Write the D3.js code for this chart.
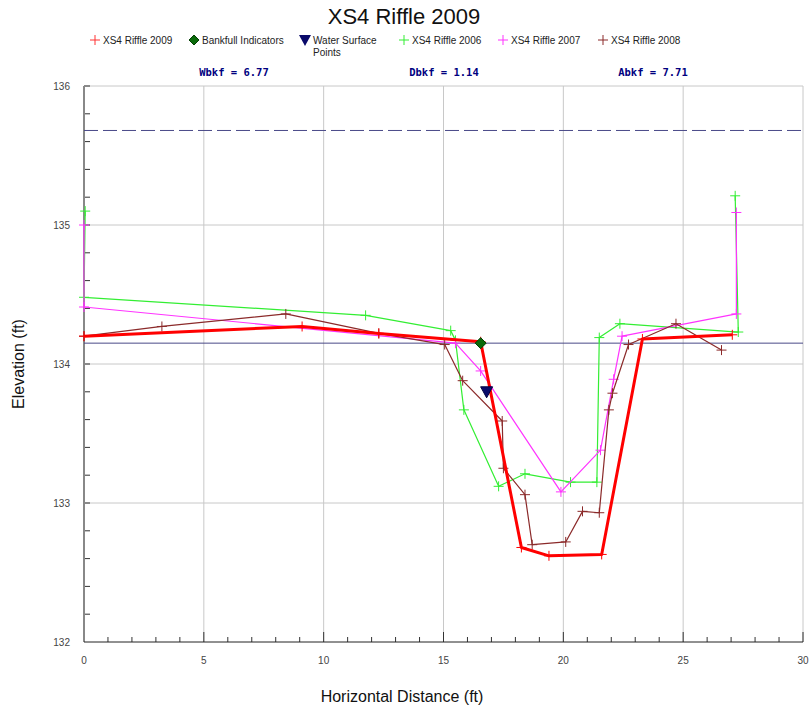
<!DOCTYPE html>
<html>
<head>
<meta charset="utf-8">
<script src="https://cdn.jsdelivr.net/npm/d3@7"></script>
<style>
  body { margin: 0; background: #fff; }
  svg { display: block; font-family: "Liberation Sans", Arial, sans-serif; }
</style>
</head>
<body>
<div id="chart"></div>
<script>
// cross-section surveys (x = horizontal distance ft, y = elevation ft)
const x2009 = [0, 9.1, 12.3, 16.55, 18.25, 19.4, 21.6, 23.3, 27.05];
const y2009 = [134.20, 134.27, 134.22, 134.16, 132.68, 132.62, 132.63, 134.18, 134.21];

const x2006 = [0.05, 0, 11.75, 15.3, 15.5, 15.85, 17.3, 18.4, 20.3, 21.4, 21.5, 22.36, 27.3, 27.17];
const y2006 = [135.10, 134.48, 134.35, 134.24, 134.17, 133.67, 133.12, 133.21, 133.15, 133.15, 134.19, 134.29, 134.23, 135.21];

const x2007 = [0, 0, 15.5, 16.55, 19.9, 21.55, 22.1, 22.45, 27.22, 27.22];
const y2007 = [135.00, 134.41, 134.15, 133.95, 133.08, 133.38, 133.89, 134.20, 134.36, 135.09];

const x2008 = [0, 3.25, 8.42, 12.3, 15.05, 15.8, 17.45, 17.5, 18.4, 18.7, 20.1, 20.8, 21.5, 21.9, 22.05, 22.72, 24.7, 26.6];
const y2008 = [134.20, 134.27, 134.36, 134.22, 134.14, 133.88, 133.59, 133.25, 133.06, 132.70, 132.72, 132.94, 132.93, 133.67, 133.79, 134.14, 134.29, 134.10];

const bankfullX = [16.55], bankfullY = [134.15];
const waterX = [16.8], waterY = [133.80];
const bankfullElev = 134.15;
const floodproneElev = 135.68;

const statLabels = ["Wbkf = 6.77", "Dbkf = 1.14", "Abkf = 7.71"];
const legendLabels = ["XS4 Riffle 2009", "Bankfull Indicators", "Water Surface", "XS4 Riffle 2006", "XS4 Riffle 2007", "XS4 Riffle 2008"];

const W = 809, H = 711;
const svg = d3.select("#chart").append("svg").attr("width", W).attr("height", H);

const x = d3.scaleLinear().domain([0, 30]).range([84, 803]);
const y = d3.scaleLinear().domain([132, 136]).range([642, 86]);

// grid
svg.append("g").selectAll("line").data(d3.range(5, 31, 5)).join("line")
  .attr("x1", d => x(d)).attr("x2", d => x(d)).attr("y1", y(136)).attr("y2", y(132))
  .attr("stroke", "#c8c8c8");
svg.append("g").selectAll("line").data([133, 134, 135, 136]).join("line")
  .attr("x1", x(0)).attr("x2", x(30)).attr("y1", d => y(d)).attr("y2", d => y(d))
  .attr("stroke", "#c8c8c8");

// minor ticks
svg.append("g").selectAll("line").data(d3.range(132.2, 136, 0.2)).join("line")
  .attr("x1", x(0)).attr("x2", x(0) + 6).attr("y1", d => y(d)).attr("y2", d => y(d))
  .attr("stroke", "#333");
svg.append("g").selectAll("line").data(d3.range(1, 31)).join("line")
  .attr("x1", d => x(d)).attr("x2", d => x(d)).attr("y1", y(132)).attr("y2", d => y(132) - (d % 5 === 0 ? 10 : 5))
  .attr("stroke", "#333");

// axes lines
svg.append("line").attr("x1", x(0)).attr("x2", x(0)).attr("y1", y(136)).attr("y2", y(132))
  .attr("stroke", "#888").attr("stroke-width", 2);
svg.append("line").attr("x1", x(0)).attr("x2", x(30)).attr("y1", y(132)).attr("y2", y(132))
  .attr("stroke", "#222").attr("stroke-width", 1);

// tick labels
svg.append("g").selectAll("text").data([132, 133, 134, 135, 136]).join("text")
  .attr("x", 70).attr("y", d => y(d) + 4).attr("text-anchor", "end")
  .style("font-size", "10px").style("fill", "#444").text(d => d);
svg.append("g").selectAll("text").data(d3.range(0, 31, 5)).join("text")
  .attr("x", d => x(d)).attr("y", 664).attr("text-anchor", "middle")
  .style("font-size", "10px").style("fill", "#444").text(d => d);

// axis titles
svg.append("text").attr("x", 402).attr("y", 702).attr("text-anchor", "middle")
  .style("font-size", "16px").style("fill", "#111").text("Horizontal Distance (ft)");
svg.append("text").attr("transform", `translate(24,${(y(136) + y(132)) / 2}) rotate(-90)`)
  .attr("text-anchor", "middle").style("font-size", "16px").style("fill", "#111").text("Elevation (ft)");

// title
svg.append("text").attr("x", 404).attr("y", 24).attr("text-anchor", "middle")
  .style("font-size", "22px").style("fill", "#111").text("XS4 Riffle 2009");

// reference lines
svg.append("line").attr("x1", x(0)).attr("x2", x(30)).attr("y1", y(floodproneElev)).attr("y2", y(floodproneElev))
  .attr("stroke", "#4a4a88").attr("stroke-dasharray", "14,5");
svg.append("line").attr("x1", x(0)).attr("x2", x(30)).attr("y1", y(bankfullElev)).attr("y2", y(bankfullElev))
  .attr("stroke", "#4a4a88");

const line = d3.line().x(d => x(d[0])).y(d => y(d[1]));

function cross(g, px, py, color, s) {
  g.append("path")
    .attr("d", `M${px - s},${py}H${px + s}M${px},${py - s}V${py + s}`)
    .attr("stroke", color).attr("stroke-width", 1).attr("fill", "none");
}

const series = [
  { xs: x2006, ys: y2006, color: "#33ee33", width: 1.2 },
  { xs: x2007, ys: y2007, color: "#ff33ff", width: 1.2 },
  { xs: x2008, ys: y2008, color: "#8b2a2a", width: 1.2 },
  { xs: x2009, ys: y2009, color: "#ff0000", width: 3 }
];

series.forEach(s => {
  const pts = s.xs.map((v, i) => [v, s.ys[i]]);
  svg.append("path").datum(pts).attr("d", line)
    .attr("fill", "none").attr("stroke", s.color).attr("stroke-width", s.width)
    .attr("stroke-linejoin", "round");
  const g = svg.append("g");
  pts.forEach(p => cross(g, x(p[0]), y(p[1]), s.color, 5));
});

// bankfull indicator & water surface
const diamond = "M0,-5.5L5.5,0L0,5.5L-5.5,0Z";
svg.append("g").selectAll("path").data(bankfullX.map((v, i) => [v, bankfullY[i]])).join("path")
  .attr("d", diamond)
  .attr("transform", d => `translate(${x(d[0])},${y(d[1])})`)
  .attr("fill", "#0a6a0a").attr("stroke", "#034003");
svg.append("g").selectAll("path").data(waterX.map((v, i) => [v, waterY[i]])).join("path")
  .attr("d", "M-6,-5L6,-5L0,6Z")
  .attr("transform", d => `translate(${x(d[0])},${y(d[1])})`)
  .attr("fill", "#0a0a6a").attr("stroke", "#000040");

// stats
const statX = [234, 444, 653];
svg.append("g").selectAll("text").data(statLabels).join("text")
  .attr("x", (d, i) => statX[i]).attr("y", 76).attr("text-anchor", "middle")
  .style("font-family", "'DejaVu Sans Mono', monospace").style("font-weight", "bold")
  .style("font-size", "10.5px").style("fill", "#000080").text(d => d);

// legend
const lg = svg.append("g").style("font-size", "10px").style("fill", "#222");
const legX = [95, 194, 305, 404, 503, 603];
cross(lg, legX[0], 40, "#ff3333", 5);
lg.append("path").attr("d", "M0,-5L5,0L0,5L-5,0Z")
  .attr("transform", `translate(${legX[1]},40)`).attr("fill", "#0a6a0a").attr("stroke", "#034003");
lg.append("path").attr("d", "M-6,-5L6,-5L0,6Z")
  .attr("transform", `translate(${legX[2]},40)`).attr("fill", "#0a0a6a");
cross(lg, legX[3], 40, "#33ee33", 5);
cross(lg, legX[4], 40, "#ff33ff", 5);
cross(lg, legX[5], 40, "#8b2a2a", 5);
legendLabels.forEach((t, i) => {
  lg.append("text").attr("x", legX[i] + 8).attr("y", 44).text(t);
});
lg.append("text").attr("x", legX[2] + 8).attr("y", 56).text("Points");
</script>
</body>
</html>
